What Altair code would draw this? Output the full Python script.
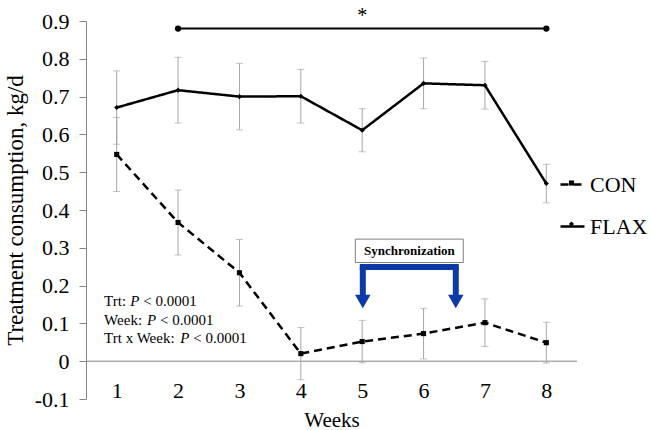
import altair as alt
import pandas as pd

# Weekly treatment consumption (kg/d), mean and SE per treatment
weeks = [1, 2, 3, 4, 5, 6, 7, 8]
con_mean = [0.547, 0.367, 0.234, 0.020, 0.052, 0.073, 0.102, 0.049]
con_se = [0.098, 0.086, 0.088, 0.069, 0.056, 0.067, 0.063, 0.054]
flax_mean = [0.671, 0.717, 0.700, 0.701, 0.611, 0.735, 0.730, 0.470]
flax_se = [0.097, 0.087, 0.088, 0.071, 0.057, 0.067, 0.063, 0.051]
treatments = ["CON", "FLAX"]

y_ticks = [-0.1, 0.0, 0.1, 0.2, 0.3, 0.4, 0.5, 0.6, 0.7, 0.8, 0.9]

stat_prefixes = ["Trt:", "Week:", "Trt x Week:"]
stat_suffix = "<\u00a00.0001"

SERIF = "Liberation Serif"
AXIS_GREY = "#868686"
ERR_GREY = "#a6a6a6"
BLUE = "#0b3aa8"

PLOT_W, PLOT_H = 491, 378
X_MIN, X_MAX = 0.5, 8.5
UNITS_PER_PX = (X_MAX - X_MIN) / PLOT_W

rows = []
for trt, means, ses in [("CON", con_mean, con_se), ("FLAX", flax_mean, flax_se)]:
    for w, m, s in zip(weeks, means, ses):
        rows.append({"week": w, "trt": trt, "mean": m, "lo": m - s, "hi": m + s})
df = pd.DataFrame(rows)

x_scale = alt.Scale(domain=[X_MIN, X_MAX], nice=False, zero=False)
y_scale = alt.Scale(domain=[-0.1, 0.9], nice=False, zero=False)

x_enc = alt.X(
    "week:Q",
    scale=x_scale,
    axis=alt.Axis(
        values=weeks, format="d", domain=False, ticks=False, grid=False,
        labelPadding=-19, title="Weeks", titlePadding=8, titleFontSize=21,
    ),
)
y_axis = alt.Axis(
    values=y_ticks, tickCount=12,
    labelExpr="datum.value < 0 ? '-' + format(-datum.value, '.1f') : format(datum.value, '.1~f')",
    labelOverlap=False, labelFlush=False,
    grid=False, tickSize=7, labelPadding=10, titlePadding=7, titleFontSize=23,
    title="Treatment consumption, kg/d",
)
y_enc = alt.Y("mean:Q", scale=y_scale, axis=y_axis)

base = alt.Chart(df)

err_rule = base.mark_rule(color=ERR_GREY, strokeWidth=1).encode(
    x=x_enc, y=alt.Y("lo:Q", scale=y_scale, axis=y_axis), y2="hi:Q"
)
cap_lo = base.mark_tick(color=ERR_GREY, thickness=1, size=7, orient="horizontal").encode(
    x="week:Q", y="lo:Q"
)
cap_hi = base.mark_tick(color=ERR_GREY, thickness=1, size=7, orient="horizontal").encode(
    x="week:Q", y="hi:Q"
)

lines = base.mark_line(color="black", strokeWidth=2.5).encode(
    x=x_enc,
    y=y_enc,
    strokeDash=alt.StrokeDash(
        "trt:N",
        scale=alt.Scale(domain=treatments, range=[[8, 5], [1, 0]]),
        legend=alt.Legend(
            orient="none", legendX=473, legendY=150, direction="vertical",
            title=None, symbolType="stroke", symbolSize=576, symbolStrokeWidth=2.5,
            symbolStrokeColor="black", labelFont=SERIF, labelFontSize=22,
            labelColor="black", labelOffset=4, rowPadding=17, padding=0,
        ),
    ),
)
points = base.mark_point(filled=True, color="black", size=26, opacity=1).encode(
    x="week:Q",
    y="mean:Q",
    shape=alt.Shape(
        "trt:N",
        scale=alt.Scale(range=["square", "diamond"]),
        legend=alt.Legend(
            orient="none", legendX=473, legendY=151, direction="vertical",
            title=None, symbolSize=26, symbolFillColor="black", symbolStrokeColor="black",
            symbolOffset=1.5, labelExpr="''", labelFont=SERIF, labelFontSize=22,
            labelOffset=0, rowPadding=19, padding=0,
        ),
    ),
)

# horizontal zero line of the category axis
zero_df = pd.DataFrame({"x": [X_MIN], "x2": [X_MAX], "y": [0.0]})
zero_line = alt.Chart(zero_df).mark_rule(color=AXIS_GREY, strokeWidth=1).encode(
    x="x:Q", x2="x2:Q", y="y:Q"
)

# significance bracket over weeks 2-8
sig_df = pd.DataFrame({"x": [2], "x2": [8], "y": [0.88]})
sig_line = alt.Chart(sig_df).mark_rule(color="black", strokeWidth=2).encode(
    x="x:Q", x2="x2:Q", y="y:Q"
)
sig_ends = alt.Chart(pd.DataFrame({"x": [2, 8], "y": [0.88, 0.88]})).mark_point(
    filled=True, color="black", size=40, shape="circle", opacity=1
).encode(x="x:Q", y="y:Q")
sig_star = alt.Chart(pd.DataFrame({"x": [5], "y": [0.897], "t": ["*"]})).mark_text(
    font=SERIF, fontSize=20, color="black", baseline="alphabetic", align="center"
).encode(x="x:Q", y="y:Q", text="t:N")

# synchronization window: labelled box with a blue bracket pointing down
sync_box = alt.Chart(pd.DataFrame({"x": [4.888], "x2": [6.647], "y": [0.323], "y2": [0.261]})).mark_rect(
    fill="white", stroke="#7f7f7f", strokeWidth=1
).encode(x="x:Q", x2="x2:Q", y="y:Q", y2="y2:Q")
sync_text = alt.Chart(pd.DataFrame({"x": [5.77], "y": [0.292], "t": ["Synchronization"]})).mark_text(
    font=SERIF, fontSize=13, fontWeight="bold", color="black", baseline="middle", align="center"
).encode(x="x:Q", y="y:Q", text="t:N")
bar_df = pd.DataFrame({"x": [5.01], "x2": [6.525], "y": [0.249]})
sync_bar = alt.Chart(bar_df).mark_rule(color=BLUE, strokeWidth=6, strokeCap="square").encode(
    x="x:Q", x2="x2:Q", y="y:Q"
)
shaft_df = pd.DataFrame({"x": [5.01, 6.525], "y": [0.249, 0.249], "y2": [0.172, 0.172]})
sync_shafts = alt.Chart(shaft_df).mark_rule(color=BLUE, strokeWidth=6).encode(
    x="x:Q", y="y:Q", y2="y2:Q"
)
heads = alt.Chart(pd.DataFrame({"x": [5.01, 6.525], "y": [0.158, 0.158]})).mark_point(
    shape="triangle-down", filled=True, color=BLUE, size=240, opacity=1
).encode(x="x:Q", y="y:Q")

# statistics block, italic P set between roman segments
TIMES_W = {"T": .611, "r": .333, "t": .278, ":": .278, " ": .25, "W": .944,
           "e": .444, "k": .5, "x": .5}
STAT_SIZE = 15
SPACE = 0.25 * STAT_SIZE
P_WIDTH = 0.611 * STAT_SIZE


def text_px(s):
    return sum(TIMES_W[c] for c in s) * STAT_SIZE


stat_x0 = 0.795
stat_y = [0.146, 0.096, 0.048]
stat_df = pd.DataFrame({
    "pre": stat_prefixes,
    "y": stat_y,
    "x_pre": [stat_x0] * 3,
    "x_p": [stat_x0 + (text_px(p) + SPACE) * UNITS_PER_PX for p in stat_prefixes],
    "x_suf": [stat_x0 + (text_px(p) + 2 * SPACE + P_WIDTH) * UNITS_PER_PX for p in stat_prefixes],
    "p": ["P"] * 3,
    "suf": [stat_suffix] * 3,
})
stat_style = dict(font=SERIF, fontSize=STAT_SIZE, color="black", baseline="alphabetic", align="left")
stat_pre = alt.Chart(stat_df).mark_text(**stat_style).encode(x="x_pre:Q", y="y:Q", text="pre:N")
stat_p = alt.Chart(stat_df).mark_text(fontStyle="italic", **stat_style).encode(x="x_p:Q", y="y:Q", text="p:N")
stat_suf = alt.Chart(stat_df).mark_text(**stat_style).encode(x="x_suf:Q", y="y:Q", text="suf:N")

chart = alt.layer(
    zero_line, err_rule, cap_lo, cap_hi, lines, points,
    sig_line, sig_ends, sig_star,
    sync_box, sync_text, sync_bar, sync_shafts, heads,
    stat_pre, stat_p, stat_suf,
).properties(
    width=PLOT_W, height=PLOT_H,
    autosize="none",
    padding={"left": 86, "top": 21, "right": 73, "bottom": 31},
    background="white",
).configure_view(stroke=None).configure_axis(
    labelFont=SERIF, titleFont=SERIF, labelFontSize=22, labelColor="black",
    titleColor="black", titleFontWeight="normal", domainColor=AXIS_GREY, tickColor=AXIS_GREY,
)

chart.save("out.html", embed_options={"renderer": "svg", "actions": False})
